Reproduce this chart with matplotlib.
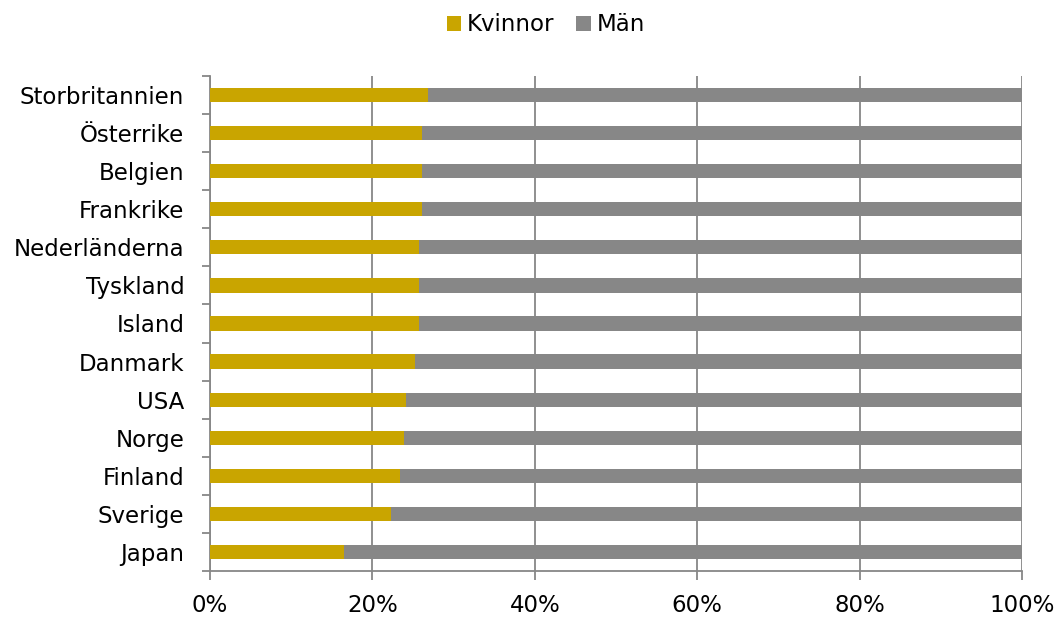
import matplotlib
matplotlib.use("Agg")
import matplotlib.pyplot as plt
from matplotlib.ticker import FixedLocator, PercentFormatter
import numpy as np

countries = ["Storbritannien", "Österrike", "Belgien", "Frankrike", "Nederländerna",
             "Tyskland", "Island", "Danmark", "USA", "Norge", "Finland", "Sverige", "Japan"]
kvinnor = [26.9, 26.1, 26.1, 26.1, 25.8, 25.8, 25.7, 25.3, 24.1, 23.9, 23.4, 22.3, 16.5]
man = [100 - v for v in kvinnor]
series_names = ["Kvinnor", "Män"]
xticks = [0, 20, 40, 60, 80, 100]

plt.rcParams['font.family'] = ['DejaVu Sans']
fig = plt.figure(figsize=(10.61, 6.2), dpi=100)
ax = fig.add_axes([210/1061, 1 - 571/620, (1022-210)/1061, (571-76)/620])

gold = "#C9A500"
grey = "#878787"
n = len(countries)
y = np.arange(n)[::-1]
h = 0.375
ax.barh(y, kvinnor, height=h, color=gold, label=series_names[0], zorder=3)
ax.barh(y, man, left=kvinnor, height=h, color=grey, label=series_names[1], zorder=3)

ax.set_xlim(0, 100)
ax.set_ylim(-0.5, n - 0.5)
ax.xaxis.set_major_locator(FixedLocator(xticks))
ax.xaxis.set_major_formatter(PercentFormatter(decimals=0))
ax.set_yticks(y)
ax.set_yticklabels(countries)
ax.yaxis.set_minor_locator(FixedLocator(np.arange(n + 1) - 0.5))
ax.tick_params(axis='y', which='major', length=0, pad=18.5, labelsize=16.5)
ax.tick_params(axis='y', which='minor', length=5.5, width=1.3, color="#878787")
ax.tick_params(axis='x', which='major', length=6.5, width=1.3, color="#878787",
               labelsize=16.5, pad=10)
ax.grid(axis='x', color="#878787", linewidth=1.3, zorder=0)
for s in ['top', 'right']:
    ax.spines[s].set_visible(False)
for s in ['left', 'bottom']:
    ax.spines[s].set_color("#878787")
    ax.spines[s].set_linewidth(1.3)

fig.legend(loc='upper center', bbox_to_anchor=(546/1061, 1.012), ncol=2, frameon=False,
           fontsize=16.5, handlelength=0.62, handleheight=0.62, handletextpad=0.28,
           columnspacing=0.95)

fig.savefig("out.png", dpi=100)
